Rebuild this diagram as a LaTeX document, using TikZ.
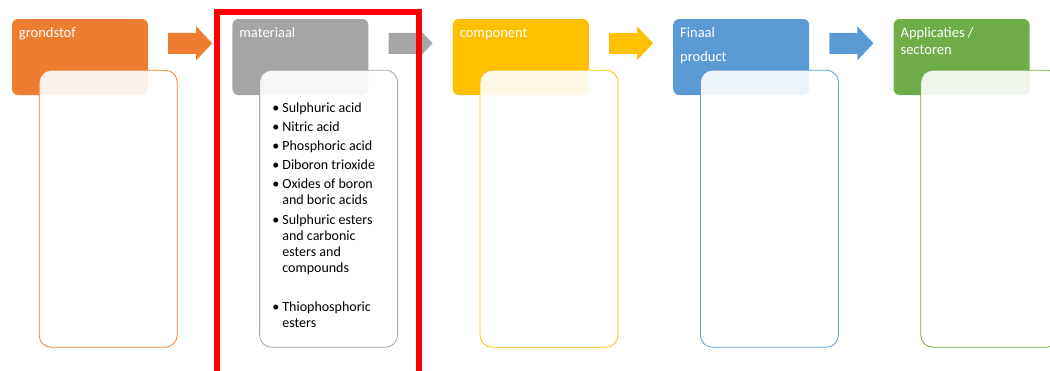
\documentclass[tikz,border=0pt]{standalone}
\usepackage{fontspec}
\setmainfont{Carlito}
\usetikzlibrary{positioning}

\definecolor{grondstofC}{HTML}{ED7D31}
\definecolor{materiaalC}{HTML}{A5A5A5}
\definecolor{componentC}{HTML}{FFC000}
\definecolor{productC}{HTML}{5B9BD5}
\definecolor{sectorC}{HTML}{70AD47}

\begin{document}
\begin{tikzpicture}[x=1pt, y=-1pt,
    header/.style={rounded corners=6pt, minimum width=136pt, minimum height=76pt, inner sep=0pt},
    panel/.style={line width=0.8pt, rounded corners=12pt, fill=white, fill opacity=0.9,
        minimum width=138pt, minimum height=277pt, inner sep=0pt, anchor=north west},
    hdrlabel/.style={text=white, font=\fontsize{14.5}{17}\selectfont, align=left, inner sep=0pt, anchor=north west},
    itemlist/.style={font=\fontsize{14}{16}\selectfont, align=left, inner sep=0pt, anchor=north west},
    stagearrow/.pic={\path[pic actions] (0,-10.5) -- ++(28,0) -- ++(0,-6.5) -- ++(16,17)
        -- ++(-16,17) -- ++(0,-6.5) -- ++(-28,0) -- cycle;}]

            \useasboundingbox (0,0) rectangle (1050,370);
            \clip (0,0) rectangle (1050,370);

            % Header boxes of the five stages
            \node[header, fill=grondstofC] (grondstof) at (80,57) {};
            \node[header, fill=materiaalC, right=84pt of grondstof] (materiaal) {};
            \node[header, fill=componentC, right=84pt of materiaal] (component) {};
            \node[header, fill=productC, right=84pt of component] (product) {};
            \node[header, fill=sectorC, right=84pt of product] (sector) {};

            % Header labels
            \node[hdrlabel] (grondstoflbl) at ([xshift=7pt,yshift=-8pt]grondstof.north west) {\rule{0pt}{10pt}grondstof};
            \node[hdrlabel] (materiaallbl) at ([xshift=7pt,yshift=-8pt]materiaal.north west) {\rule{0pt}{10pt}materiaal};
            \node[hdrlabel] (componentlbl) at ([xshift=7pt,yshift=-8pt]component.north west) {\rule{0pt}{10pt}component};
            \node[hdrlabel] (productlbl) at ([xshift=7pt,yshift=-8pt]product.north west) {\rule{0pt}{10pt}Finaal\\[7pt]product};
            \node[hdrlabel] (sectorlbl) at ([xshift=7pt,yshift=-8pt]sector.north west) {\rule{0pt}{10pt}Applicaties /\\sectoren};

            % Content panels, lying over the headers
            \node[panel, draw=grondstofC] (grondstofbox) at ([xshift=27pt,yshift=-51pt]grondstof.north west) {};
            \node[panel, draw=materiaalC] (materiaalbox) at ([xshift=27pt,yshift=-51pt]materiaal.north west) {};
            \node[panel, draw=componentC] (componentbox) at ([xshift=27pt,yshift=-51pt]component.north west) {};
            \node[panel, draw=productC] (productbox) at ([xshift=27pt,yshift=-51pt]product.north west) {};
            \node[panel, draw=sectorC] (sectorbox) at ([xshift=27pt,yshift=-51pt]sector.north west) {};

            % Block arrows between the stages
            \coordinate (arr1) at ([xshift=20pt,yshift=-24.5pt]grondstof.north east);
            \coordinate (arr2) at ([xshift=20pt,yshift=-24.5pt]materiaal.north east);
            \coordinate (arr3) at ([xshift=20pt,yshift=-24.5pt]component.north east);
            \coordinate (arr4) at ([xshift=20pt,yshift=-24.5pt]product.north east);
            \pic[fill=grondstofC] at (arr1) {stagearrow};
            \pic[fill=materiaalC] at (arr2) {stagearrow};
            \pic[fill=componentC] at (arr3) {stagearrow};
            \pic[fill=productC] at (arr4) {stagearrow};

            % Materials list
            \node[itemlist] (materiaallist) at ([xshift=13pt,yshift=-31pt]materiaalbox.north west) {%
                \rule{0pt}{11pt}\makebox[10pt][l]{\textbullet}Sulphuric acid\\[3.5pt]
                \makebox[10pt][l]{\textbullet}Nitric acid\\[3pt]
                \makebox[10pt][l]{\textbullet}Phosphoric acid\\[3pt]
                \makebox[10pt][l]{\textbullet}Diboron trioxide\\[2.5pt]
                \makebox[10pt][l]{\textbullet}Oxides of boron\\
                \hspace*{10pt}and boric acids\\[4pt]
                \makebox[10pt][l]{\textbullet}Sulphuric esters\\
                \hspace*{10pt}and carbonic\\
                \hspace*{10pt}esters and\\
                \hspace*{10pt}compounds\\[23pt]
                \makebox[10pt][l]{\textbullet}Thiophosphoric\\
                \hspace*{10pt}esters};

            % Red highlight round the materials stage
            \draw[red, line width=5.5pt] (217,12) rectangle (419,400);
        \end{tikzpicture}
\end{document}
